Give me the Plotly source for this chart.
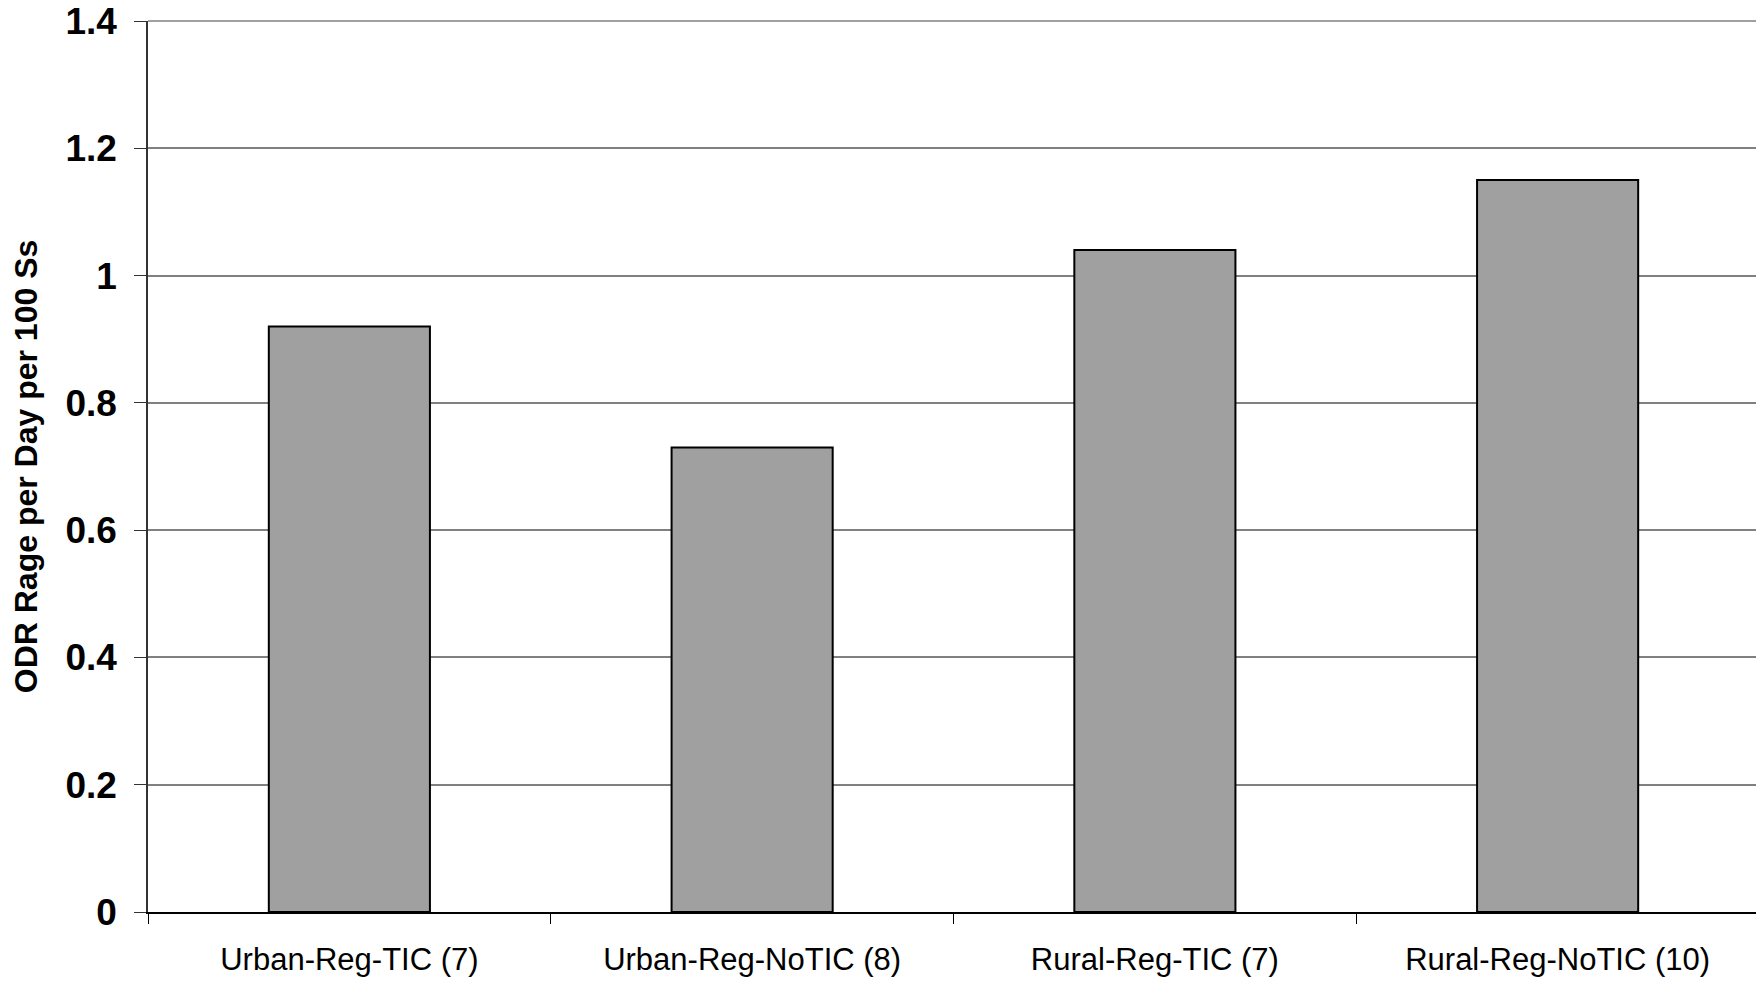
import plotly.graph_objects as go

categories = ["Urban-Reg-TIC (7)", "Urban-Reg-NoTIC (8)", "Rural-Reg-TIC (7)", "Rural-Reg-NoTIC (10)"]
values = [0.92, 0.73, 1.04, 1.15]
y_ticks = [0, 0.2, 0.4, 0.6, 0.8, 1.0, 1.2, 1.4]
y_tick_labels = ["0", "0.2", "0.4", "0.6", "0.8", "1", "1.2", "1.4"]

fig = go.Figure()
fig.add_trace(go.Bar(
    x=categories, y=values,
    marker=dict(color="#a0a0a0", line=dict(color="#000000", width=2)),
    width=0.4,
))

# page body has an 8px margin; size/margins compensate for it
fig.update_layout(
    width=1756, height=973,
    margin=dict(l=140, r=5, t=12.5, b=68.7),
    paper_bgcolor="white", plot_bgcolor="white",
    showlegend=False,
    font=dict(family="Liberation Sans, Arial, sans-serif", color="black"),
    bargap=0.6,
)

fig.update_xaxes(
    automargin=False,
    showgrid=False,
    showline=True, linecolor="#000000", linewidth=1.5,
    ticks="outside", ticklen=10, tickcolor="#000000", tickwidth=1,
    tickson="boundaries",
    tickfont=dict(size=31, family="Liberation Sans, Arial, sans-serif"),
    ticklabelstandoff=19,
    ticklabeloverflow="allow",
)

fig.update_yaxes(
    automargin=False,
    range=[0, 1.4],
    tickvals=y_ticks, ticktext=y_tick_labels,
    showgrid=True, gridcolor="#808080", gridwidth=1.5,
    showline=True, linecolor="#333333", linewidth=1.5,
    ticks="outside", ticklen=12, tickcolor="#333333", tickwidth=1,
    tickfont=dict(size=37, family="Liberation Sans, Arial, sans-serif", weight="bold"),
    ticklabelstandoff=10,
    ticklabeloverflow="allow",
    zeroline=False,
    title=dict(text="ODR Rage per Day per 100 Ss",
               font=dict(size=32, family="Liberation Sans, Arial, sans-serif", weight="bold"),
               standoff=19),
)

# plot-area border lines (right edge and top edge)
fig.add_shape(type="line", xref="paper", yref="paper", x0=1, x1=1, y0=0, y1=1,
              line=dict(color="#808080", width=1.5))
fig.add_shape(type="line", xref="paper", yref="paper", x0=0, x1=1, y0=1, y1=1,
              line=dict(color="#808080", width=1.5))

fig.write_html("out.html")
